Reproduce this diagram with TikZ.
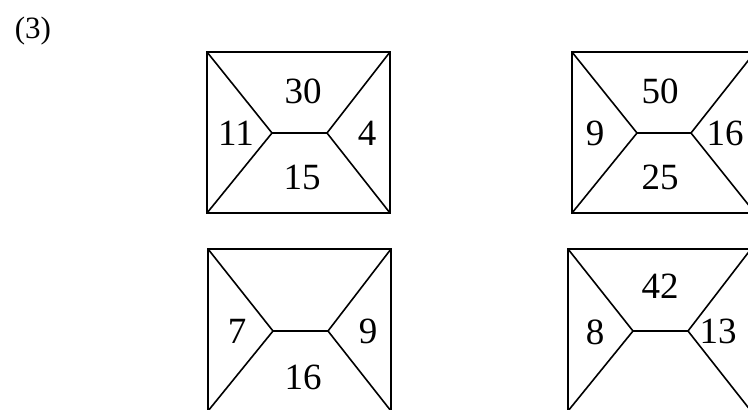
\documentclass[tikz,border=0pt]{standalone}
\usepackage{fontspec}
\setmainfont{Liberation Serif}
\begin{document}
\begin{tikzpicture}[x=1pt,y=-1pt,
  edge/.style={line width=1.6pt},
  num/.style={font=\fontsize{37}{40}\selectfont, inner sep=0pt}]
\useasboundingbox (0,0) rectangle (748,410);
\clip (0,0) rectangle (748,410);
\node[font=\fontsize{31}{34}\selectfont, inner sep=0pt] (lbl) at (33,31) {(3)};
% square 1
\coordinate (a1) at (207,52); \coordinate (b1) at (390,52);
\coordinate (c1) at (390,213); \coordinate (d1) at (207,213);
\coordinate (p1) at (272,133); \coordinate (q1) at (327,133);
\draw[edge] (a1) -- (b1) -- (c1) -- (d1) -- cycle;
\draw[edge] (a1) -- (p1) -- (d1); \draw[edge] (p1) -- (q1);
\draw[edge] (b1) -- (q1) -- (c1);
\node[num] (t1) at (303,91) {30};
\node[num] (l1) at (236,133) {11};
\node[num] (r1) at (367,133) {4};
\node[num] (u1) at (302,177) {15};
% square 2
\coordinate (a2) at (572,52); \coordinate (b2) at (755,52);
\coordinate (c2) at (755,213); \coordinate (d2) at (572,213);
\coordinate (p2) at (637,133); \coordinate (q2) at (691,133);
\draw[edge] (a2) -- (b2) -- (c2) -- (d2) -- cycle;
\draw[edge] (a2) -- (p2) -- (d2); \draw[edge] (p2) -- (q2);
\draw[edge] (b2) -- (q2) -- (c2);
\node[num] (t2) at (660,91) {50};
\node[num] (l2) at (595,133) {9};
\node[num] (r2) at (725,133) {16};
\node[num] (u2) at (660,177) {25};
% square 3
\coordinate (a3) at (208,249); \coordinate (b3) at (391,249);
\coordinate (c3) at (391,411); \coordinate (d3) at (208,411);
\coordinate (p3) at (273,331); \coordinate (q3) at (328,331);
\draw[edge] (a3) -- (b3) -- (c3) -- (d3) -- cycle;
\draw[edge] (a3) -- (p3) -- (d3); \draw[edge] (p3) -- (q3);
\draw[edge] (b3) -- (q3) -- (c3);
\node[num] (l3) at (237,331) {7};
\node[num] (r3) at (368,331) {9};
\node[num] (u3) at (303,377) {16};
% square 4
\coordinate (a4) at (568,249); \coordinate (b4) at (751,249);
\coordinate (c4) at (751,411); \coordinate (d4) at (568,411);
\coordinate (p4) at (633,331); \coordinate (q4) at (688,331);
\draw[edge] (a4) -- (b4) -- (c4) -- (d4) -- cycle;
\draw[edge] (a4) -- (p4) -- (d4); \draw[edge] (p4) -- (q4);
\draw[edge] (b4) -- (q4) -- (c4);
\node[num] (t4) at (660,286) {42};
\node[num] (l4) at (595,332) {8};
\node[num] (r4) at (718,331) {13};
\end{tikzpicture}
\end{document}
